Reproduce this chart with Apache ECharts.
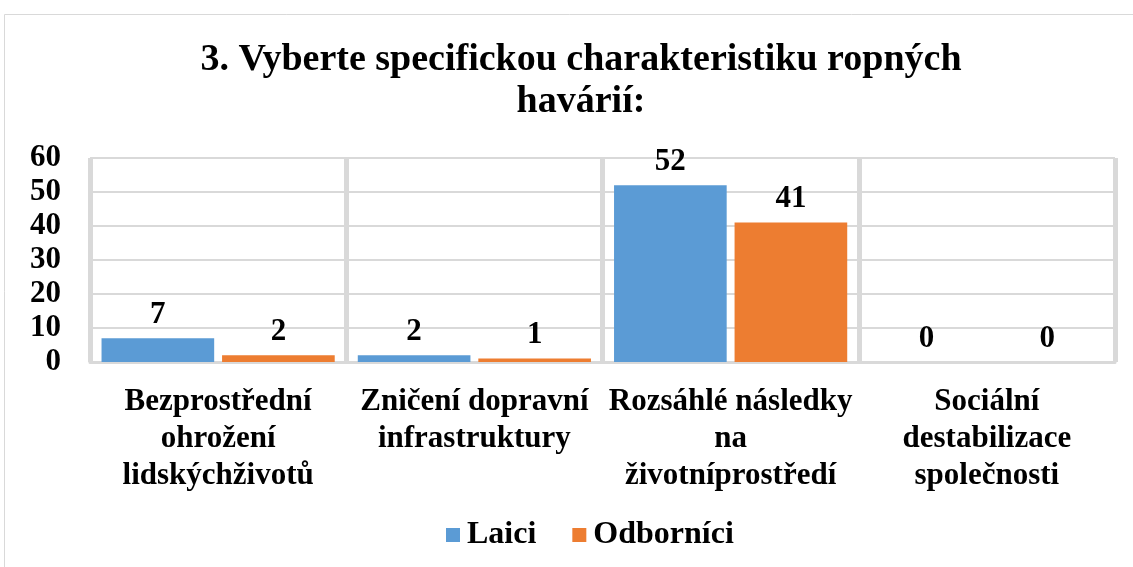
<!DOCTYPE html>
<html>
<head>
<meta charset="utf-8">
<script src="https://cdn.jsdelivr.net/npm/echarts@6/dist/echarts.min.js"></script>
<style>
html,body{margin:0;padding:0;background:#fff;}
#c{width:1133px;height:567px;}
</style>
</head>
<body>
<div id="c"></div>
<script>
const titleText = '3. Vyberte specifickou charakteristiku ropných\nhavárií:';
const categories = ['Bezprostřední\nohrožení\nlidskýchživotů', 'Zničení dopravní\ninfrastruktury', 'Rozsáhlé následky\nna\nživotníprostředí', 'Sociální\ndestabilizace\nspolečnosti'];
const seriesNames = ['Laici', 'Odborníci'];
const laici = [7, 2, 52, 0];
const odbornici = [2, 1, 41, 0];
const colors = ['#5b9bd5', '#ed7d31'];

const font = '"Liberation Serif", "Times New Roman", serif';
const chart = echarts.init(document.getElementById('c'));
const labelStyle = {show: true, position: 'top', distance: 8, fontFamily: font, fontWeight: 'bold', fontSize: 31, color: '#000'};
chart.setOption({
  animation: false,
  title: {
    text: titleText, left: 576, top: 34, textAlign: 'center',
    textStyle: {fontFamily: font, fontWeight: 'bold', fontSize: 38, color: '#000', lineHeight: 42}
  },
  graphic: [{type: 'rect', shape: {x: 4.5, y: 14.5, width: 1140, height: 600}, style: {fill: 'none', stroke: '#d9d9d9', lineWidth: 1}, silent: true}],
  legend: {
    data: seriesNames, bottom: 11, left: 441, itemWidth: 14, itemHeight: 14, itemGap: 36,
    icon: 'rect',
    textStyle: {fontFamily: font, fontWeight: 'bold', fontSize: 32, color: '#000', padding: [0, 0, 0, 2]}
  },
  grid: {left: 90, right: 18, top: 158, bottom: 205, containLabel: false},
  xAxis: {
    type: 'category', data: categories,
    axisLine: {show: true, lineStyle: {color: '#d9d9d9', width: 3}},
    axisTick: {show: false},
    splitLine: {show: true, lineStyle: {color: '#d9d9d9', width: 5}},
    axisLabel: {interval: 0, margin: 21, fontFamily: font, fontWeight: 'bold', fontSize: 31, color: '#000', lineHeight: 37}
  },
  yAxis: {
    type: 'value', min: 0, max: 60, interval: 10,
    axisLine: {show: false}, axisTick: {show: false},
    splitLine: {show: true, lineStyle: {color: '#d9d9d9', width: 2}},
    axisLabel: {margin: 29, fontFamily: font, fontWeight: 'bold', fontSize: 31, color: '#000'}
  },
  series: [
    {name: seriesNames[0], type: 'bar', data: laici, itemStyle: {color: colors[0]}, barGap: '7%', barCategoryGap: '9%', label: labelStyle},
    {name: seriesNames[1], type: 'bar', data: odbornici, itemStyle: {color: colors[1]}, label: labelStyle}
  ]
});
</script>
</body>
</html>
